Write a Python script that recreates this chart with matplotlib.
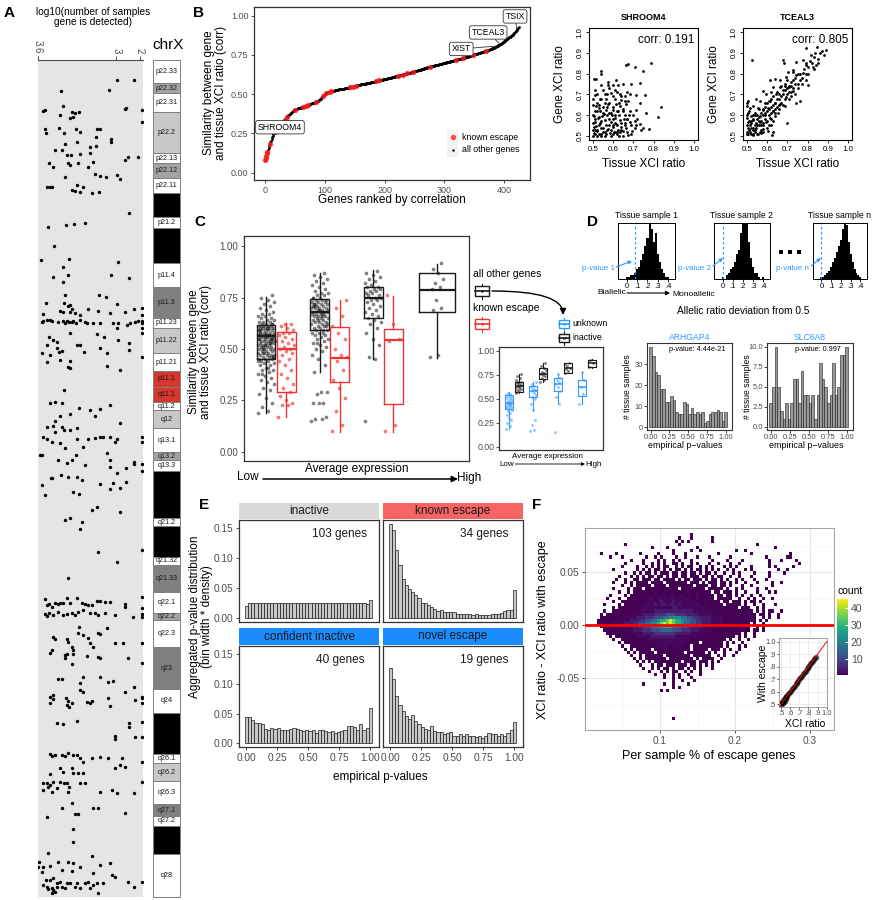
import numpy as np
import matplotlib
matplotlib.use("Agg")
import matplotlib.pyplot as plt
from matplotlib.patches import Rectangle
from matplotlib.colors import Normalize

plt.rcParams["font.family"] = ["Liberation Sans", "DejaVu Sans"]

W, H = 876, 900
TXT = "#4d4d4d"
RED = "#ee3333"
BLUE = "#3399ff"

# ---------------- A: chrX ideogram and genes ----------------
band_names = ["p22.33", "p22.32", "p22.31", "p22.2", "p22.13", "p22.12", "p22.11", "p21.3", "p21.2", "p21.1",
              "p11.4", "p11.3", "p11.23", "p11.22", "p11.21", "p11.1", "q11.1", "q11.2", "q12", "q13.1",
              "q13.2", "q13.3", "q21.1", "q21.2", "q21.31", "q21.32", "q21.33", "q22.1", "q22.2", "q22.3",
              "q23", "q24", "q25", "q26.1", "q26.2", "q26.3", "q27.1", "q27.2", "q27.3", "q28"]
band_start = [0, 23, 33, 52, 93, 103, 118, 133, 157, 168, 203, 227, 258, 268, 293, 311, 327, 342, 350, 368,
              392, 400, 411, 458, 466, 497, 505, 532, 553, 560, 587, 629, 653, 694, 703, 721, 744, 756, 766, 794]
band_end = band_start[1:] + [837]
band_stain = ["gneg", "gpos50", "gneg", "gpos25", "gneg", "gpos50", "gneg", "gpos100", "gneg", "gpos100",
              "gneg", "gpos75", "gneg", "gpos25", "gneg", "acen", "acen", "gneg", "gpos25", "gneg",
              "gpos50", "gneg", "gpos100", "gneg", "gpos100", "gneg", "gpos75", "gneg", "gpos50", "gneg",
              "gpos75", "gneg", "gpos100", "gneg", "gpos25", "gneg", "gpos75", "gneg", "gpos100", "gneg"]
stain_colors = {"gneg": "white", "gpos25": "#c8c8c8", "gpos50": "#a3a3a3", "gpos75": "#808080",
                "gpos100": "black", "acen": "#d6372c"}

# (ideogram position, number of samples the gene is detected in)
a_genes = [
    (20, 989), (20, 317), (31, 3107), (30, 1293), (46, 3018), (51, 3779), (50, 3715), (52, 2701), (53, 2574),
    (52, 2422), (49, 672), (48, 634), (50, 5), (55, 3145), (58, 2764), (57, 2663), (62, 5), (69, 3715),
    (68, 3170), (69, 2536), (69, 1750), (69, 1623), (72, 2384), (73, 3677), (73, 2980), (82, 2485), (77, 1775),
    (79, 1205), (82, 1205), (86, 1775), (87, 2003), (84, 2954), (90, 3335), (90, 3081), (95, 2891), (95, 2726),
    (94, 2384), (93, 2003), (97, 165), (97, 545), (100, 672), (103, 3550), (103, 2828), (105, 2764), (103, 2447),
    (107, 3398), (107, 2067), (102, 1877), (115, 989), (119, 862), (117, 2954), (114, 1813), (116, 1623),
    (117, 1407), (127, 3652), (127, 3525), (127, 3462), (125, 2511), (127, 2257), (130, 2701), (131, 2574),
    (132, 2384), (133, 1940), (132, 1661), (153, 520), (167, 3588), (165, 2929), (164, 2612), (163, 2194),
    (186, 3373), (200, 3880), (199, 2790), (202, 926), (207, 3043), (215, 2828), (215, 1205), (218, 507),
    (217, 3398), (222, 3043), (235, 2954), (235, 1648), (237, 1395), (243, 3690), (243, 2980), (245, 2764),
    (244, 989), (251, 3145), (252, 3018), (246, 2828), (252, 2764), (249, 2701), (253, 2574), (255, 2384),
    (249, 2067), (251, 1686), (253, 1243), (252, 672), (249, 317), (248, 5), (255, 5), (254, 3779),
    (262, 3842), (261, 3779), (260, 3652), (260, 3525), (261, 3462), (262, 3208), (261, 3018), (263, 2954),
    (261, 2891), (262, 2790), (262, 2701), (261, 2637), (263, 2536), (260, 2384), (262, 2194), (263, 2105),
    (263, 1877), (263, 1623), (263, 1141), (263, 926), (263, 482), (262, 292), (261, 165), (261, 5), (263, 5),
    (268, 964), (265, 609), (268, 5), (273, 5), (277, 3550), (280, 3398), (282, 3271), (273, 2764), (274, 1750),
    (277, 1458), (280, 926), (285, 3652), (288, 3271), (292, 3170), (291, 3081), (293, 3842), (295, 3525),
    (285, 2511), (285, 2384), (292, 2219), (288, 1623), (293, 1344), (283, 507), (290, 507), (297, 5),
    (302, 3652), (300, 3145), (301, 2764), (307, 2828), (308, 2764), (310, 862), (306, 1344), (330, 2980),
    (342, 3335), (343, 3525), (343, 3081), (348, 2422), (354, 2764), (356, 3145), (361, 3335), (350, 2003),
    (356, 1813), (349, 1623), (345, 1243), (367, 3652), (366, 3398), (372, 3335), (367, 3081), (370, 2992),
    (370, 2764), (368, 2511), (363, 862), (377, 3779), (379, 3652), (382, 3462), (383, 3145), (379, 2511),
    (379, 2067), (378, 1813), (377, 1623), (377, 1496), (377, 1243), (382, 1052), (379, 989), (377, 5),
    (382, 5), (388, 2954), (387, 2257),
    (395, 3905), (395, 3842), (400, 3208), (403, 2891), (400, 2701), (395, 2536), (405, 2194), (393, 1369),
    (400, 1243), (408, 634), (402, 317), (404, 317), (404, 5), (411, 5), (407, 1243), (413, 989), (425, 3842),
    (435, 3715), (418, 3487), (418, 3436), (415, 3119), (417, 2828), (417, 2511), (420, 2320), (432, 2663),
    (434, 2409), (424, 1623), (423, 1116), (429, 1243), (428, 862), (422, 634), (450, 1940), (447, 1750),
    (452, 862), (460, 2954), (458, 2764), (462, 2320), (469, 2384), (492, 1686), (502, 989), (490, 5),
    (518, 2828), (539, 3715), (545, 3652), (544, 3550), (547, 3462), (543, 3335), (544, 3208), (543, 3145),
    (543, 3043), (538, 2891), (543, 2764), (538, 2511), (543, 2320), (544, 2194), (545, 2067), (545, 1940),
    (541, 1750), (541, 1623), (542, 1433), (542, 1243), (544, 672), (547, 672), (537, 5), (548, 5),
    (554, 3715), (556, 3652), (553, 3550), (555, 3398), (552, 3208), (555, 3018), (554, 2891), (553, 2701),
    (555, 2574), (552, 2447), (550, 2257), (553, 2003), (553, 1813), (555, 1686), (553, 1433), (555, 1052),
    (557, 355), (554, 5), (557, 5), (567, 2409), (573, 2447), (577, 3398), (579, 3335), (579, 2891),
    (582, 2828), (587, 2701), (590, 2637), (575, 2257), (578, 2067), (583, 2003), (587, 1877), (573, 1686),
    (574, 1623), (568, 1369), (583, 1052), (583, 761), (583, 5), (590, 3462), (593, 3525), (595, 2954),
    (598, 2954), (594, 2891), (594, 2637), (604, 2701), (596, 2130), (597, 1686), (598, 1623), (598, 545),
    (603, 5), (619, 3208), (619, 3081), (617, 2257), (623, 2384), (617, 1623), (622, 1306), (621, 1116),
    (632, 672), (627, 317), (637, 3525), (635, 3424), (639, 3398), (643, 3525), (638, 2916), (641, 2828),
    (645, 2891), (647, 2790), (643, 2701), (630, 2384), (632, 2257), (642, 2130), (643, 2003), (641, 1940),
    (638, 1306), (646, 1243), (638, 5), (643, 5), (637, 5), (640, 292), (663, 3246), (664, 3018), (661, 2485),
    (663, 507), (667, 507), (662, 5), (676, 1052), (679, 1052), (677, 292), (677, 5), (694, 3525), (696, 3462),
    (695, 3335), (695, 3081), (696, 2954), (693, 2828), (695, 2637), (695, 2511), (698, 2384), (702, 2282),
    (698, 1940), (697, 1623), (698, 1306), (698, 799), (708, 1052), (705, 862), (707, 672), (702, 5),
    (714, 3525), (708, 3145), (712, 3043), (708, 2701), (713, 2637), (713, 2447), (713, 2257), (722, 5),
    (723, 3779), (723, 3652), (725, 3525), (722, 3398), (722, 3145), (723, 2992), (723, 2891), (723, 2384),
    (723, 2194), (730, 3779), (727, 3588), (732, 3462), (728, 3271), (732, 2828), (727, 2790), (732, 1623),
    (730, 1179), (733, 964), (733, 330), (748, 3056), (743, 2701), (754, 2574), (754, 2447), (748, 1877),
    (748, 1686), (753, 672), (757, 3652), (769, 2637), (782, 2663), (793, 3588), (796, 1940), (802, 3931),
    (807, 3969), (807, 3779), (806, 3525), (802, 3208), (802, 2828), (803, 2637), (807, 2384), (805, 1623),
    (803, 1243), (812, 3842), (810, 3081), (811, 2701), (813, 1877), (815, 1179), (817, 1052), (820, 3677),
    (820, 3525), (818, 3398), (823, 3271), (822, 3145), (823, 2891), (823, 2764), (823, 2511), (823, 2194),
    (822, 2067), (823, 1750), (823, 1496), (825, 3779), (827, 3652), (829, 3588), (828, 3462), (830, 3398),
    (832, 3335), (827, 3271), (827, 3081), (828, 2954), (827, 2574), (828, 2384), (828, 2003), (825, 1877),
    (833, 3462), (833, 1686), (822, 545), (827, 317), (822, 5)]
a_tick_values = [3.6, 3, 2]

# ---------------- B: ranked correlation ----------------
corr_sorted = [
    0.083, 0.092, 0.105, 0.125, 0.134, 0.148, 0.160, 0.172, 0.185, 0.195,
    0.205, 0.214, 0.225, 0.236, 0.245, 0.252, 0.260, 0.266, 0.271, 0.276,
    0.281, 0.286, 0.290, 0.295, 0.299, 0.303, 0.307, 0.311, 0.315, 0.319,
    0.324, 0.329, 0.334, 0.339, 0.343, 0.348, 0.352, 0.356, 0.361, 0.365,
    0.369, 0.373, 0.376, 0.380, 0.383, 0.386, 0.390, 0.394, 0.397, 0.400,
    0.402, 0.404, 0.405, 0.407, 0.408, 0.410, 0.411, 0.412, 0.413, 0.414,
    0.415, 0.416, 0.417, 0.418, 0.419, 0.420, 0.421, 0.422, 0.423, 0.424,
    0.426, 0.428, 0.430, 0.432, 0.433, 0.435, 0.437, 0.439, 0.441, 0.443,
    0.444, 0.446, 0.447, 0.449, 0.450, 0.452, 0.453, 0.455, 0.457, 0.459,
    0.462, 0.465, 0.468, 0.472, 0.476, 0.480, 0.484, 0.488, 0.492, 0.496,
    0.499, 0.502, 0.505, 0.507, 0.509, 0.511, 0.513, 0.514, 0.515, 0.516,
    0.517, 0.518, 0.519, 0.520, 0.521, 0.522, 0.523, 0.524, 0.525, 0.526,
    0.527, 0.528, 0.529, 0.530, 0.530, 0.531, 0.532, 0.533, 0.533, 0.534,
    0.535, 0.536, 0.536, 0.537, 0.538, 0.539, 0.539, 0.540, 0.541, 0.542,
    0.542, 0.543, 0.544, 0.545, 0.546, 0.547, 0.548, 0.549, 0.550, 0.551,
    0.552, 0.553, 0.554, 0.555, 0.556, 0.557, 0.558, 0.559, 0.560, 0.561,
    0.562, 0.563, 0.563, 0.564, 0.565, 0.566, 0.566, 0.567, 0.568, 0.569,
    0.569, 0.570, 0.571, 0.572, 0.572, 0.573, 0.574, 0.575, 0.576, 0.577,
    0.578, 0.579, 0.580, 0.580, 0.581, 0.582, 0.583, 0.584, 0.585, 0.586,
    0.587, 0.588, 0.588, 0.589, 0.590, 0.591, 0.592, 0.593, 0.594, 0.594,
    0.595, 0.596, 0.597, 0.598, 0.599, 0.600, 0.601, 0.602, 0.603, 0.604,
    0.605, 0.606, 0.607, 0.608, 0.609, 0.610, 0.611, 0.612, 0.613, 0.614,
    0.615, 0.616, 0.617, 0.618, 0.619, 0.620, 0.621, 0.622, 0.623, 0.624,
    0.625, 0.626, 0.627, 0.628, 0.629, 0.630, 0.631, 0.632, 0.633, 0.634,
    0.635, 0.636, 0.637, 0.638, 0.639, 0.640, 0.641, 0.642, 0.643, 0.644,
    0.645, 0.646, 0.647, 0.649, 0.650, 0.651, 0.652, 0.653, 0.655, 0.656,
    0.657, 0.658, 0.659, 0.661, 0.662, 0.663, 0.664, 0.666, 0.667, 0.668,
    0.669, 0.670, 0.671, 0.672, 0.673, 0.674, 0.675, 0.676, 0.677, 0.678,
    0.679, 0.680, 0.681, 0.682, 0.683, 0.684, 0.685, 0.686, 0.687, 0.688,
    0.689, 0.690, 0.691, 0.692, 0.693, 0.694, 0.695, 0.696, 0.697, 0.698,
    0.699, 0.700, 0.701, 0.702, 0.703, 0.704, 0.705, 0.706, 0.707, 0.708,
    0.709, 0.710, 0.711, 0.712, 0.713, 0.714, 0.715, 0.716, 0.717, 0.718,
    0.719, 0.720, 0.721, 0.722, 0.723, 0.724, 0.725, 0.726, 0.727, 0.728,
    0.729, 0.730, 0.731, 0.732, 0.733, 0.734, 0.736, 0.737, 0.738, 0.739,
    0.740, 0.742, 0.743, 0.744, 0.745, 0.747, 0.748, 0.749, 0.750, 0.752,
    0.753, 0.754, 0.755, 0.757, 0.758, 0.759, 0.760, 0.762, 0.763, 0.764,
    0.765, 0.766, 0.767, 0.768, 0.770, 0.771, 0.772, 0.773, 0.774, 0.776,
    0.777, 0.778, 0.779, 0.781, 0.782, 0.783, 0.785, 0.786, 0.788, 0.789,
    0.791, 0.793, 0.795, 0.797, 0.799, 0.801, 0.803, 0.805, 0.807, 0.809,
    0.811, 0.813, 0.815, 0.817, 0.819, 0.822, 0.825, 0.828, 0.831, 0.834,
    0.837, 0.840, 0.843, 0.846, 0.849, 0.852, 0.855, 0.858, 0.861, 0.864,
    0.867, 0.870, 0.873, 0.876, 0.879, 0.883, 0.887, 0.891, 0.895, 0.900,
    0.905, 0.910, 0.915, 0.920, 0.925]
escape_ranks = [0, 1, 2, 3, 4, 8, 16, 17, 18, 33, 36, 50, 64, 68, 72, 86, 97, 102, 108, 111, 142, 147, 152,
                186, 191, 222, 230, 238, 247, 275, 320, 331, 348, 370]
gene_labels = ["SHROOM4", "XIST", "TCEAL3", "TSIX"]
gene_label_rank = [17, 388, 393, 421]
gene_label_box = [(25, 0.29), (328, 0.788), (373, 0.893), (418, 0.995)]

shroom4_xy = [
    (0.665, 0.842), (0.673, 0.847), (0.706, 0.834), (0.785, 0.85), (0.748, 0.814), (0.538, 0.814), (0.538, 0.80),
    (0.505, 0.776), (0.517, 0.776), (0.616, 0.768), (0.574, 0.76), (0.648, 0.751), (0.731, 0.755), (0.541, 0.743),
    (0.574, 0.743), (0.599, 0.743), (0.624, 0.743), (0.69, 0.751), (0.508, 0.698), (0.558, 0.702), (0.591, 0.705),
    (0.632, 0.702), (0.657, 0.693), (0.682, 0.702), (0.715, 0.698), (0.756, 0.698), (0.533, 0.677), (0.566, 0.677),
    (0.607, 0.677), (0.64, 0.672), (0.673, 0.669), (0.731, 0.66), (0.574, 0.652), (0.612, 0.652), (0.632, 0.644),
    (0.662, 0.652), (0.513, 0.644), (0.53, 0.636), (0.566, 0.627), (0.599, 0.627), (0.624, 0.619), (0.648, 0.619),
    (0.682, 0.619), (0.715, 0.627), (0.764, 0.611), (0.838, 0.639), (0.822, 0.589), (0.508, 0.619), (0.503, 0.594),
    (0.508, 0.569), (0.503, 0.545), (0.508, 0.528), (0.503, 0.512), (0.525, 0.586), (0.533, 0.561), (0.541, 0.536),
    (0.55, 0.52), (0.558, 0.578), (0.566, 0.553), (0.574, 0.533), (0.583, 0.512), (0.591, 0.569), (0.599, 0.545),
    (0.607, 0.586), (0.616, 0.556), (0.624, 0.528), (0.632, 0.578), (0.64, 0.545), (0.648, 0.523), (0.657, 0.561),
    (0.665, 0.54), (0.673, 0.503), (0.682, 0.569), (0.69, 0.553), (0.706, 0.573), (0.715, 0.55), (0.731, 0.556),
    (0.748, 0.54), (0.776, 0.533), (0.517, 0.548), (0.52, 0.523), (0.53, 0.507), (0.546, 0.594), (0.563, 0.507),
    (0.594, 0.599), (0.602, 0.52), (0.619, 0.507), (0.635, 0.52), (0.652, 0.583), (0.668, 0.583), (0.536, 0.619),
    (0.553, 0.606), (0.58, 0.611), (0.628, 0.599), (0.678, 0.599), (0.695, 0.523), (0.5, 0.5), (0.5, 0.53),
    (0.5, 0.56), (0.5, 0.6), (0.5, 0.65), (0.52, 0.5), (0.54, 0.5), (0.56, 0.52), (0.58, 0.55), (0.6, 0.58),
    (0.61, 0.6), (0.62, 0.55), (0.54, 0.57), (0.55, 0.64), (0.58, 0.66), (0.6, 0.69), (0.62, 0.71), (0.59, 0.5),
    (0.61, 0.52), (0.64, 0.56), (0.66, 0.6), (0.6, 0.64), (0.57, 0.6), (0.53, 0.59), (0.52, 0.66), (0.7, 0.6),
    (0.72, 0.58), (0.74, 0.53), (0.65, 0.5), (0.67, 0.52), (0.51, 0.51), (0.52, 0.53), (0.53, 0.55), (0.54, 0.51),
    (0.55, 0.54), (0.56, 0.5), (0.57, 0.53), (0.58, 0.58), (0.59, 0.53), (0.6, 0.51), (0.61, 0.56), (0.62, 0.52),
    (0.63, 0.5), (0.64, 0.53), (0.66, 0.55), (0.67, 0.58), (0.69, 0.51), (0.71, 0.54), (0.51, 0.58), (0.52, 0.62),
    (0.53, 0.65), (0.55, 0.61), (0.56, 0.66), (0.57, 0.64), (0.59, 0.61), (0.6, 0.55), (0.62, 0.62), (0.63, 0.66),
    (0.65, 0.63), (0.66, 0.67), (0.5, 0.68), (0.51, 0.72), (0.52, 0.7), (0.54, 0.68), (0.55, 0.72), (0.57, 0.7),
    (0.58, 0.73), (0.61, 0.72), (0.64, 0.69), (0.67, 0.71)]
tceal3_xy = [
    (0.794, 0.925), (0.847, 0.93), (0.893, 0.913), (0.818, 0.892), (0.835, 0.9), (0.777, 0.864), (0.794, 0.85),
    (0.827, 0.834), (0.851, 0.85), (0.744, 0.854), (0.728, 0.817), (0.703, 0.809), (0.678, 0.867), (0.681, 0.85),
    (0.695, 0.784), (0.744, 0.793), (0.777, 0.801), (0.794, 0.768), (0.802, 0.743), (0.752, 0.751), (0.761, 0.669),
    (0.744, 0.66), (0.637, 0.776), (0.662, 0.768), (0.612, 0.768), (0.629, 0.735), (0.662, 0.735), (0.686, 0.751),
    (0.708, 0.735), (0.728, 0.718), (0.579, 0.718), (0.596, 0.702), (0.62, 0.71), (0.645, 0.702), (0.67, 0.693),
    (0.695, 0.685), (0.72, 0.693), (0.546, 0.677), (0.563, 0.669), (0.587, 0.66), (0.612, 0.669), (0.637, 0.66),
    (0.662, 0.652), (0.686, 0.644), (0.505, 0.669), (0.513, 0.636), (0.53, 0.644), (0.554, 0.636), (0.579, 0.627),
    (0.604, 0.636), (0.629, 0.619), (0.653, 0.611), (0.505, 0.611), (0.521, 0.594), (0.538, 0.611), (0.563, 0.594),
    (0.587, 0.602), (0.612, 0.586), (0.637, 0.594), (0.505, 0.569), (0.516, 0.553), (0.53, 0.578), (0.546, 0.561),
    (0.563, 0.569), (0.579, 0.553), (0.596, 0.569), (0.62, 0.553), (0.505, 0.536), (0.513, 0.52), (0.53, 0.528),
    (0.546, 0.536), (0.563, 0.52), (0.579, 0.533), (0.604, 0.523), (0.629, 0.52), (0.505, 0.507), (0.53, 0.503),
    (0.554, 0.507), (0.571, 0.512), (0.625, 0.503), (0.5, 0.586), (0.5, 0.553), (0.5, 0.52), (0.5, 0.644),
    (0.5, 0.66), (0.526, 0.864), (0.698, 0.564), (0.52, 0.56), (0.53, 0.54), (0.54, 0.52), (0.55, 0.58),
    (0.56, 0.55), (0.57, 0.57), (0.58, 0.6), (0.59, 0.58), (0.6, 0.62), (0.61, 0.6), (0.62, 0.64), (0.63, 0.62),
    (0.64, 0.66), (0.65, 0.64), (0.66, 0.68), (0.67, 0.66), (0.68, 0.7), (0.69, 0.72), (0.7, 0.7), (0.71, 0.74),
    (0.72, 0.76), (0.73, 0.73), (0.74, 0.78), (0.75, 0.8), (0.76, 0.77), (0.78, 0.82), (0.79, 0.84), (0.8, 0.8),
    (0.81, 0.86), (0.83, 0.88), (0.84, 0.84), (0.86, 0.9), (0.88, 0.89), (0.51, 0.53), (0.52, 0.51), (0.53, 0.58),
    (0.54, 0.6), (0.55, 0.51), (0.56, 0.63), (0.57, 0.53), (0.58, 0.56), (0.59, 0.64), (0.6, 0.54), (0.61, 0.67),
    (0.62, 0.58), (0.63, 0.69), (0.64, 0.61), (0.65, 0.71), (0.66, 0.63), (0.67, 0.74), (0.68, 0.65), (0.7, 0.77),
    (0.71, 0.68), (0.73, 0.81), (0.74, 0.7), (0.77, 0.75), (0.5, 0.6), (0.51, 0.62), (0.5, 0.51), (0.52, 0.57),
    (0.53, 0.51), (0.54, 0.55), (0.55, 0.55), (0.56, 0.59), (0.57, 0.61), (0.58, 0.52), (0.6, 0.57), (0.61, 0.55),
    (0.62, 0.61), (0.63, 0.57), (0.64, 0.63), (0.66, 0.65), (0.69, 0.68), (0.72, 0.71), (0.75, 0.73),
    (0.51, 0.57), (0.52, 0.54), (0.53, 0.6), (0.54, 0.53), (0.55, 0.6), (0.56, 0.57), (0.57, 0.55), (0.58, 0.63),
    (0.59, 0.61), (0.6, 0.66), (0.61, 0.63), (0.62, 0.68), (0.63, 0.65), (0.65, 0.68), (0.66, 0.7), (0.68, 0.72),
    (0.69, 0.74), (0.7, 0.73), (0.71, 0.71), (0.72, 0.74), (0.73, 0.77), (0.74, 0.75), (0.76, 0.8), (0.77, 0.78),
    (0.79, 0.8), (0.8, 0.83), (0.82, 0.85), (0.83, 0.82), (0.85, 0.87), (0.87, 0.91)]

# ---------------- C: boxplots by expression level ----------------
# (whisker low, q1, median, q3, whisker high)
c_black_stats = [(0.19, 0.45, 0.563, 0.615, 0.755), (0.39, 0.592, 0.681, 0.743, 0.867),
                 (0.45, 0.649, 0.749, 0.80, 0.883), (0.455, 0.681, 0.786, 0.867, 0.915)]
c_red_stats = [(0.171, 0.293, 0.498, 0.584, 0.625), (0.099, 0.341, 0.458, 0.605, 0.738),
               (0.098, 0.233, 0.544, 0.597, 0.757)]
c_black_pts = [
    [0.19, 0.20, 0.22, 0.24, 0.26, 0.28, 0.30, 0.31, 0.33, 0.34, 0.35, 0.36, 0.37, 0.38, 0.39, 0.40, 0.40, 0.41,
     0.42, 0.42, 0.43, 0.43, 0.44, 0.44, 0.45, 0.45, 0.45, 0.46, 0.46, 0.46, 0.47, 0.47, 0.47, 0.48, 0.48, 0.48,
     0.49, 0.49, 0.49, 0.50, 0.50, 0.50, 0.50, 0.51, 0.51, 0.51, 0.52, 0.52, 0.52, 0.52, 0.53, 0.53, 0.53, 0.53,
     0.54, 0.54, 0.54, 0.54, 0.55, 0.55, 0.55, 0.55, 0.56, 0.56, 0.56, 0.56, 0.56, 0.57, 0.57, 0.57, 0.57, 0.57,
     0.58, 0.58, 0.58, 0.58, 0.58, 0.59, 0.59, 0.59, 0.59, 0.59, 0.60, 0.60, 0.60, 0.60, 0.60, 0.61, 0.61, 0.61,
     0.61, 0.62, 0.62, 0.62, 0.63, 0.63, 0.63, 0.64, 0.64, 0.65, 0.65, 0.66, 0.66, 0.67, 0.67, 0.68, 0.69, 0.70,
     0.71, 0.72, 0.73, 0.74, 0.75, 0.76, 0.52, 0.55, 0.57, 0.48, 0.46, 0.60, 0.58, 0.54, 0.50, 0.44, 0.41, 0.38,
     0.62, 0.56, 0.59, 0.53, 0.51, 0.47, 0.57, 0.61, 0.55],
    [0.15, 0.16, 0.16, 0.17, 0.24, 0.24, 0.24, 0.28, 0.29, 0.29, 0.39, 0.42, 0.45, 0.47, 0.49, 0.50, 0.51, 0.52,
     0.53, 0.54, 0.55, 0.55, 0.56, 0.57, 0.57, 0.58, 0.58, 0.59, 0.59, 0.59, 0.60, 0.60, 0.61, 0.61, 0.62, 0.62,
     0.63, 0.63, 0.63, 0.64, 0.64, 0.65, 0.65, 0.65, 0.66, 0.66, 0.66, 0.67, 0.67, 0.67, 0.68, 0.68, 0.68, 0.68,
     0.69, 0.69, 0.69, 0.70, 0.70, 0.70, 0.71, 0.71, 0.71, 0.72, 0.72, 0.72, 0.73, 0.73, 0.73, 0.74, 0.74, 0.74,
     0.75, 0.75, 0.76, 0.76, 0.77, 0.77, 0.78, 0.79, 0.80, 0.81, 0.82, 0.83, 0.84, 0.85, 0.86, 0.87, 0.64, 0.70,
     0.66, 0.72, 0.61, 0.69, 0.75, 0.58, 0.53, 0.62, 0.67, 0.71],
    [0.15, 0.45, 0.46, 0.52, 0.55, 0.58, 0.60, 0.62, 0.63, 0.64, 0.65, 0.66, 0.67, 0.68, 0.69, 0.70, 0.71, 0.72,
     0.73, 0.74, 0.74, 0.75, 0.75, 0.76, 0.76, 0.77, 0.77, 0.78, 0.78, 0.79, 0.79, 0.80, 0.80, 0.81, 0.82, 0.83,
     0.84, 0.85, 0.86, 0.87, 0.88],
    [0.46, 0.47, 0.69, 0.70, 0.74, 0.79, 0.80, 0.82, 0.84, 0.87, 0.89, 0.92]]
c_red_pts = [
    [0.17, 0.23, 0.23, 0.24, 0.25, 0.27, 0.29, 0.31, 0.33, 0.36, 0.38, 0.40, 0.42, 0.44, 0.45, 0.47, 0.48, 0.49,
     0.50, 0.50, 0.51, 0.52, 0.53, 0.54, 0.55, 0.56, 0.57, 0.58, 0.58, 0.59, 0.60, 0.61, 0.62, 0.62],
    [0.10, 0.13, 0.20, 0.26, 0.31, 0.35, 0.40, 0.44, 0.46, 0.47, 0.50, 0.55, 0.58, 0.61, 0.66, 0.70, 0.74],
    [0.10, 0.13, 0.54, 0.55, 0.62, 0.76]]
# inset: unknown (blue) vs inactive (black)
ci_blue_stats = [(0.19, 0.39, 0.458, 0.54, 0.573), (0.382, 0.514, 0.583, 0.632, 0.677),
                 (0.452, 0.583, 0.653, 0.712, 0.757), (0.45, 0.53, 0.62, 0.70, 0.78)]
ci_black_stats = [(0.556, 0.573, 0.632, 0.677, 0.757), (0.677, 0.702, 0.757, 0.817, 0.869),
                  (0.765, 0.771, 0.817, 0.869, 0.875), (0.82, 0.833, 0.87, 0.903, 0.92)]
ci_blue_pts = [
    [0.19, 0.22, 0.25, 0.28, 0.30, 0.33, 0.35, 0.37, 0.38, 0.39, 0.40, 0.41, 0.42, 0.43, 0.44, 0.45, 0.45, 0.46,
     0.46, 0.47, 0.48, 0.49, 0.50, 0.51, 0.52, 0.53, 0.54, 0.55, 0.56],
    [0.16, 0.17, 0.23, 0.28, 0.38, 0.45, 0.50, 0.52, 0.54, 0.56, 0.58, 0.59, 0.60, 0.62, 0.63, 0.65, 0.67],
    [0.15, 0.45, 0.52, 0.58, 0.62, 0.65, 0.67, 0.70, 0.72, 0.76],
    [0.45, 0.55, 0.62, 0.70, 0.78]]
ci_black_pts = [
    [0.56, 0.58, 0.59, 0.60, 0.61, 0.62, 0.63, 0.63, 0.64, 0.65, 0.66, 0.67, 0.68, 0.70, 0.72, 0.74, 0.76],
    [0.68, 0.70, 0.72, 0.74, 0.75, 0.76, 0.77, 0.78, 0.80, 0.82, 0.84, 0.87],
    [0.77, 0.79, 0.81, 0.82, 0.84, 0.86, 0.87],
    [0.83, 0.87, 0.90]]
c_yticks = [0.00, 0.25, 0.50, 0.75, 1.00]

# ---------------- D: per-sample allelic ratio histograms ----------------
d_bin_centers = [0.00, 0.02, 0.04, 0.06, 0.08, 0.10, 0.12, 0.14, 0.16, 0.18, 0.20, 0.22, 0.24, 0.26, 0.28,
                 0.30, 0.32, 0.34, 0.36, 0.38, 0.40]
d_sample_counts = [
    [1, 1, 2, 2, 3, 5, 6, 9, 12, 16, 20, 30, 24, 18, 22, 12, 8, 5, 3, 1, 1],
    [1, 0, 2, 3, 5, 6, 8, 12, 14, 22, 30, 28, 30, 18, 10, 6, 3, 3, 1, 0, 1],
    [1, 1, 2, 3, 4, 6, 8, 10, 13, 16, 19, 24, 30, 26, 18, 12, 8, 5, 3, 2, 1]]
d_sample_titles = ["Tissue sample 1", "Tissue sample 2", "Tissue sample n"]
d_observed = [0.08, 0.005, 0.0]
d_pvalue_labels = ["p-value 1", "p-value 2", "p-value n"]
arhgap4_counts = [38, 34, 26, 25, 18, 18, 12, 12, 15, 13, 7, 6, 6, 12, 11, 6, 9, 6, 7, 6, 7, 2, 3, 6, 7, 7,
                  8, 7, 3, 7]
slc6a8_counts = [3, 5, 10, 5, 2, 1, 3, 1, 3, 6, 6, 3, 7, 4, 4, 3, 4, 1, 4, 8, 6, 5, 3, 4, 8, 4, 5, 9, 9, 10]

# ---------------- E: aggregated p-value distributions ----------------
e_titles = ["inactive", "known escape", "confident inactive", "novel escape"]
e_strip_colors = ["#d9d9d9", "#f66464", "#1a8cff", "#1a8cff"]
e_gene_counts = [103, 34, 40, 19]
e_inactive = [0.021, 0.025, 0.025, 0.025, 0.026, 0.025, 0.026, 0.025, 0.025, 0.026, 0.026, 0.025, 0.026, 0.025,
              0.026, 0.025, 0.026, 0.026, 0.025, 0.026, 0.025, 0.026, 0.026, 0.025, 0.026, 0.025, 0.025, 0.026,
              0.025, 0.026, 0.025, 0.025, 0.026, 0.025, 0.026, 0.025, 0.026, 0.025, 0.023, 0.031]
e_known = [0.156, 0.146, 0.113, 0.088, 0.066, 0.056, 0.048, 0.044, 0.039, 0.033, 0.026, 0.025, 0.022, 0.019,
           0.015, 0.013, 0.014, 0.011, 0.011, 0.010, 0.010, 0.007, 0.008, 0.007, 0.007, 0.007, 0.006, 0.008,
           0.006, 0.006, 0.006, 0.006, 0.007, 0.008, 0.008, 0.009, 0.013, 0.014, 0.014, 0.047]
e_confident = [0.044, 0.044, 0.040, 0.034, 0.034, 0.033, 0.024, 0.023, 0.026, 0.024, 0.026, 0.023, 0.023, 0.022,
               0.024, 0.026, 0.024, 0.022, 0.021, 0.023, 0.021, 0.023, 0.018, 0.022, 0.022, 0.021, 0.019, 0.021,
               0.018, 0.019, 0.021, 0.022, 0.029, 0.029, 0.028, 0.022, 0.032, 0.023, 0.026, 0.059]
e_novel = [0.126, 0.107, 0.079, 0.065, 0.054, 0.046, 0.041, 0.048, 0.037, 0.032, 0.028, 0.024, 0.023, 0.029,
           0.021, 0.019, 0.019, 0.015, 0.018, 0.019, 0.012, 0.013, 0.015, 0.012, 0.015, 0.013, 0.013, 0.011,
           0.012, 0.009, 0.012, 0.018, 0.015, 0.015, 0.012, 0.015, 0.013, 0.018, 0.023, 0.036]

# ---------------- F: 2D histogram, coded counts per bin ----------------
f_x0, f_dx, f_y0, f_dy, f_ncol = 0.012, 0.004, 0.09, 0.003, 79
f_code = {".": 0, "1": 1, "2": 2, "3": 4, "4": 7, "5": 11, "6": 16, "7": 22, "8": 28, "9": 35, "a": 42}
f_rows = [
    "",
    "................................1",
    "............................1...1......1",
    "...........................1.1.1.......1",
    "..........1.................1.........................1",
    "...................1....1.........1.........................1",
    "..........................1.....1..1...........1..1",
    "..1....1.......1.....1....1...1..........1..........1............1",
    ".....1...1.......1..1.1....1..1...1...1......1...........1......11",
    "............1...1....1.1..1.1...1......1....1....1........1...1....1",
    "..........1.....1..1.1.1..11.1..1.1...1..1...1..1.........1.........1",
    ".........1....1..1.1.1.11..1.1.11..1.1.1...1.1.1....1.....1.1.....1",
    "......1.......1.1.1.11.1.1.11.1.1.11.1.1.1..1.1...1.1........1..1",
    "..........1..1.1.11.1.111.11.11.11.1.11.1..1..1.1....1....1....1",
    "........1...1.1.1.11.11.1.11.11.111.11.1.11..1..1...1.....1",
    ".......1..1..11.111.11.1111.1.11.111.1.11.1.1..1.1...1...1",
    "......1...1.1.1111.1111.1111111.111.1.111.11.1.1..1...1....1..1",
    ".........1..1.11111.2111.11121111.1111.11.11.1...1..1......1",
    "......1....1.111.11112111211.11121111.11111.1..1.1....1..1",
    "........1..1.11111112112112111121121111.11.111.1..1...1...1.1",
    ".....1....1.1111111122121221221111211111.11.11.1.1..1..1",
    "....1...1..11111112212222222212211211111.11111..1..1.1..1..1",
    "......1..111111112222232223222222211111111.11.111.1.11.1",
    "...1....1.111111222232332332322222211211111.11111.1..1..1...1",
    "......1.1111111122222222223322222222211111111111.111..1.1",
    "...1..11111111122222333333333333322222211111111111111.1.1.11..1",
    "..1.11111111222233334444555444433332222211111111111111.11.1..1",
    "..1111111122223334445556677776655443333222211111111111..1.1..1",
    ".111111122223334455667889a9887665544333222211111111111.1.1",
    ".1111122223334455667789a9a98876655443332222111111111.1..1",
    "..11111122223334455667788876655443332222111111111111..1.1",
    "...1111111222333444555666655544433322221111111111111.11.1",
    "....111111112222333344444443333322222111111111111.1..1",
    ".....1.1111111222223333333322222221111111111111.1.1..1",
    "......1..11111111222222222222222111111111111.1..1..1",
    "........1.1111111111222222222211111.1111111.1.1..1",
    ".........1..11111111122221222111.1111111111.1...1.1",
    "..........1.1.11111.111211111111.11111.111.1.1..1",
    "...........1.1.11111.111111111.111111.1.1..1...1",
    "............1..1.111111.11111111.111111..1.1..1",
    ".............1.1.1111111.11111111.1.1111..1",
    "..............1.1.1.111111111.1111.111.1.1",
    "...............1...1.11.111.111.11.1.1.1",
    "................1..1.1.11.1.11.1.1.1...1",
    "..................1...1.1.11..1.1..1",
    "....................1..1..1.1..1...1",
    ".......................1..1.1...1",
    "..........................1..1...1",
    "................1......1..1....1",
    "..........................1.1",
    "......................1.1",
    "", "", "", "", "", "", "", "",
    "..........................1"]
f_inset_x = [0.50, 0.50, 0.51, 0.51, 0.52, 0.52, 0.53, 0.53, 0.54, 0.54, 0.55, 0.55, 0.56, 0.56, 0.57, 0.58,
             0.59, 0.60, 0.61, 0.62, 0.63, 0.64, 0.65, 0.66, 0.67, 0.68, 0.69, 0.70, 0.71, 0.72, 0.73, 0.74,
             0.75, 0.76, 0.77, 0.78, 0.79, 0.80, 0.81, 0.82, 0.83, 0.84, 0.85, 0.86, 0.87, 0.88]
f_inset_y = [0.50, 0.51, 0.50, 0.52, 0.51, 0.53, 0.52, 0.54, 0.53, 0.55, 0.54, 0.56, 0.55, 0.57, 0.57, 0.58,
             0.59, 0.60, 0.61, 0.62, 0.63, 0.64, 0.65, 0.66, 0.67, 0.68, 0.69, 0.70, 0.71, 0.72, 0.73, 0.74,
             0.75, 0.76, 0.77, 0.78, 0.79, 0.80, 0.81, 0.82, 0.83, 0.84, 0.85, 0.86, 0.87, 0.88]


# ================= drawing =================
fig = plt.figure(figsize=(W / 100, H / 100), dpi=100)


def px_axes(x0, y0, x1, y1, **kw):
    return fig.add_axes([x0 / W, 1 - y1 / H, (x1 - x0) / W, (y1 - y0) / H], **kw)


def frame(ax, color="#333333", lw=0.9):
    for s in ax.spines.values():
        s.set_color(color)
        s.set_linewidth(lw)


def ticks(ax, size=7, length=2.5):
    ax.tick_params(labelsize=size, labelcolor=TXT, length=length, width=0.6, color="#333333", pad=1.5)


def jitter(n, amp):
    return (((np.arange(n) * 0.618034) % 1.0) - 0.5) * 2 * amp


# ---- A ----
a_pos = [g[0] for g in a_genes]
a_samples = [g[1] for g in a_genes]
axA = px_axes(38, 60, 143, 897)
axA.set_facecolor("#e5e5e5")
axA.scatter(a_samples, a_pos, s=6, c="black", lw=0)
axA.set_xlim(10 ** 3.6, -15)
axA.set_ylim(837, 0)
axA.xaxis.tick_top()
axA.set_xticks([10 ** v for v in a_tick_values])
axA.set_xticklabels([f"{v:g}" for v in a_tick_values], rotation=-90)
ticks(axA, size=7, length=3)
axA.set_yticks([])
for side in ["left", "right", "bottom"]:
    axA.spines[side].set_visible(False)
axA.spines["top"].set_color(TXT)
axA.spines["top"].set_linewidth(0.8)

axK = px_axes(153, 60, 180, 897)
for nm, s, e, st in zip(band_names, band_start, band_end, band_stain):
    axK.add_patch(Rectangle((0, s), 1, e - s, fc=stain_colors[st], ec="#7f7f7f", lw=0.7, clip_on=False))
    if st != "gpos100":
        axK.text(0.5, (s + e) / 2, nm, ha="center", va="center", fontsize=5.2, color="#1a1a1a")
axK.set_xlim(0, 1)
axK.set_ylim(837, 0)
axK.axis("off")

# ---- B ----
axB = px_axes(254, 7, 530, 180)
ranks = np.arange(len(corr_sorted))
corr_arr = np.array(corr_sorted)
axB.scatter(ranks, corr_arr, s=4, c="black", lw=0, zorder=2)
axB.scatter(ranks[escape_ranks], corr_arr[escape_ranks], s=15, c="#ff2020", alpha=0.8, lw=0, zorder=3)
for nm, r, (bx, by) in zip(gene_labels, gene_label_rank, gene_label_box):
    axB.annotate(nm, xy=(r, corr_arr[r]), xytext=(bx, by), fontsize=6.3, ha="center", va="center", zorder=4,
                 bbox=dict(boxstyle="round,pad=0.25", fc="white", ec="#333333", lw=0.6),
                 arrowprops=dict(arrowstyle="-", color="#333333", lw=0.6, shrinkA=0, shrinkB=0))
axB.set_xlim(-18.4, 443)
axB.set_ylim(-0.046, 1.055)
axB.set_xticks([0, 100, 200, 300, 400])
axB.set_yticks(c_yticks)
axB.set_yticklabels([f"{v:.2f}" for v in c_yticks])
ticks(axB, size=6.5)
frame(axB)


def base_scatter(rect, pts, title, corr_txt):
    ax = px_axes(*rect)
    ax.scatter([p[0] for p in pts], [p[1] for p in pts], s=4, c="black", lw=0)
    ax.set_xlim(0.48, 1.02)
    ax.set_ylim(0.48, 1.02)
    tv = [0.5, 0.6, 0.7, 0.8, 0.9, 1.0]
    ax.set_xticks(tv)
    ax.set_xticklabels([f"{v:.1f}" for v in tv])
    ax.set_yticks(tv)
    ax.set_yticklabels([f"{v:.1f}" for v in tv], rotation=90, va="center")
    ax.tick_params(labelsize=5.7, length=2.5, width=0.6, pad=1.5)
    frame(ax, "black", 0.8)
    ax.text(0.97, 0.95, corr_txt, transform=ax.transAxes, ha="right", va="top", fontsize=8.5)
    cx = (rect[0] + rect[2]) / 2
    fig.text(cx / W, 1 - 17 / H, title, ha="center", va="center", fontsize=6.5, fontweight="bold")
    fig.text(cx / W, 1 - 164 / H, "Tissue XCI ratio", ha="center", va="center", fontsize=8.5)
    fig.text((rect[0] - 29) / W, 1 - 84 / H, "Gene XCI ratio", ha="center", va="center", fontsize=8.5,
             rotation=90)


base_scatter((589, 28, 698, 140), shroom4_xy, "SHROOM4", "corr: 0.191")
base_scatter((743, 28, 852, 140), tceal3_xy, "TCEAL3", "corr: 0.805")

# ---- C ----
axC = px_axes(244, 236, 469, 461)


def stat(t):
    return dict(whislo=t[0], q1=t[1], med=t[2], q3=t[3], whishi=t[4], fliers=[])


def draw_boxes(ax, stats, positions, widths, color, lw=1.0, mlw=1.6):
    ax.bxp([stat(t) for t in stats], positions=positions, widths=widths, showfliers=False, showcaps=False,
           boxprops=dict(color=color, lw=lw), whiskerprops=dict(color=color, lw=lw),
           medianprops=dict(color=color, lw=mlw), manage_ticks=False)


black_pos = [0.8125, 1.8125, 2.8125, 4.0]
red_pos = [1.1875, 2.1875, 3.1875]
draw_boxes(axC, c_black_stats, black_pos, [0.35, 0.35, 0.35, 0.68], "#1a1a1a")
draw_boxes(axC, c_red_stats, red_pos, [0.35, 0.35, 0.35], RED)
for x, pts, amp in zip(black_pos, c_black_pts, [0.16, 0.16, 0.16, 0.12]):
    axC.scatter(x + jitter(len(pts), amp), pts, s=7, c="#1a1a1a", alpha=0.55, lw=0, zorder=3)
for x, pts in zip(red_pos, c_red_pts):
    axC.scatter(x + jitter(len(pts), 0.15), pts, s=7, c=RED, alpha=0.65, lw=0, zorder=3)
axC.set_xlim(0.4, 4.6)
axC.set_ylim(-0.044, 1.049)
axC.set_xticks([])
axC.set_yticks(c_yticks)
axC.set_yticklabels([f"{v:.2f}" for v in c_yticks])
ticks(axC, size=7)
frame(axC)

axCi = px_axes(499, 347, 603, 450)
bpos = [0.8, 1.8, 2.8, 3.8]
kpos = [1.2, 2.2, 3.2, 4.2]
draw_boxes(axCi, ci_blue_stats, bpos, 0.33, BLUE, lw=0.8, mlw=1.1)
draw_boxes(axCi, ci_black_stats, kpos, 0.33, "#1a1a1a", lw=0.8, mlw=1.1)
for x, pts in zip(bpos, ci_blue_pts):
    axCi.scatter(x + jitter(len(pts), 0.12), pts, s=4, c=BLUE, alpha=0.6, lw=0, zorder=3)
for x, pts in zip(kpos, ci_black_pts):
    axCi.scatter(x + jitter(len(pts), 0.12), pts, s=4, c="#1a1a1a", alpha=0.6, lw=0, zorder=3)
axCi.set_xlim(0.39, 4.65)
axCi.set_ylim(-0.034, 1.04)
axCi.set_xticks([])
axCi.set_yticks(c_yticks)
axCi.set_yticklabels([f"{v:.2f}" for v in c_yticks])
ticks(axCi, size=6.3, length=2)
frame(axCi)

# ---- D ----
for rect, counts, title, obs in zip([(618, 223, 675, 279), (714, 223, 770, 279), (813, 223, 867, 279)],
                                    d_sample_counts, d_sample_titles, d_observed):
    ax = px_axes(*rect)
    ax.bar(d_bin_centers, counts, width=0.02, color="black", lw=0)
    ax.axvline(obs, color=BLUE, lw=0.9, ls=(0, (2, 2)))
    ax.set_xlim(-0.087, 0.468)
    ax.set_ylim(0, 27)
    ax.set_yticks([])
    ax.set_xticks([0, 0.1, 0.2, 0.3, 0.4])
    ax.set_xticklabels(["0", ".1", ".2", ".3", ".4"])
    ax.tick_params(labelsize=5.5, length=2, width=0.6, pad=1)
    frame(ax, "black", 0.7)
    fig.text((rect[0] + rect[2]) / 2 / W, 1 - 216 / H, title, ha="center", va="center", fontsize=6.2)


def pval_hist(rect, counts, title, ptxt, yt, ylim):
    ax = px_axes(*rect)
    n = len(counts)
    ax.bar(np.arange(n) / (n - 1), counts, width=1 / (n - 1), color="#999999", ec="#1a1a1a", lw=0.4)
    ax.set_xlim(-0.05, 1.084)
    ax.set_ylim(*ylim)
    ax.set_xticks([0, 0.25, 0.5, 0.75, 1.0])
    ax.set_xticklabels(["0.00", "0.25", "0.50", "0.75", "1.00"])
    ax.set_yticks(yt)
    ax.set_yticklabels([f"{v:g}" if max(yt) > 10 else f"{v:.1f}" for v in yt])
    ax.tick_params(labelsize=5.5, labelcolor=TXT, length=2, width=0.5, pad=1)
    frame(ax, "#333333", 0.8)
    ax.text(0.59, 0.93, ptxt, transform=ax.transAxes, ha="center", va="center", fontsize=5.2)
    cx = (rect[0] + rect[2]) / 2
    fig.text(cx / W, 1 - 337 / H, title, ha="center", va="center", fontsize=6.2, color=BLUE)
    fig.text((cx - 4) / W, 1 - 445 / H, "empirical p\u2212values", ha="center", va="center", fontsize=6.4)
    fig.text((rect[0] - 19) / W, 1 - 387 / H, "# tissue samples", ha="center", va="center", fontsize=6.2,
             rotation=90)


pval_hist((647, 343, 732, 430), arhgap4_counts, "ARHGAP4", "p-value: 4.44e-21", [0, 10, 20, 30], (-1.4, 40))
pval_hist((767, 343, 853, 430), slc6a8_counts, "SLC6A8", "p-value: 0.997", [0, 2.5, 5, 7.5, 10], (-0.4, 10.5))

# ---- E ----
e_rects = [(239, 520, 379, 622), (383, 520, 523, 622), (239, 646, 379, 747), (383, 646, 523, 747)]
e_strips = [(503, 519), (503, 519), (628, 645), (628, 645)]
for k, (rect, vals) in enumerate(zip(e_rects, [e_inactive, e_known, e_confident, e_novel])):
    ax = px_axes(*rect)
    n = len(vals)
    ax.bar(np.arange(n) / (n - 1), vals, width=1 / (n - 1), color="#c8c8c8", ec="#1a1a1a", lw=0.5)
    ax.set_xlim(-0.06, 1.07)
    ax.set_ylim(-0.006, 0.163)
    ax.set_xticks([0, 0.25, 0.5, 0.75, 1.0])
    ax.set_xticklabels(["0.00", "0.25", "0.50", "0.75", "1.00"])
    ax.set_yticks([0, 0.05, 0.10, 0.15])
    ax.set_yticklabels(["0.00", "0.05", "0.10", "0.15"])
    ticks(ax, size=7.3)
    if k % 2 == 1:
        ax.tick_params(axis="y", left=False, labelleft=False)
    if k < 2:
        ax.tick_params(axis="x", bottom=False, labelbottom=False)
    frame(ax, "#333333", 0.9)
    ax.text(0.72, 0.86, f"{e_gene_counts[k]} genes", transform=ax.transAxes, ha="center", va="center",
            fontsize=8.5, color="#1a1a1a")
    sa = px_axes(rect[0], e_strips[k][0], rect[2], e_strips[k][1])
    sa.set_facecolor(e_strip_colors[k])
    sa.set_xticks([])
    sa.set_yticks([])
    for s in sa.spines.values():
        s.set_visible(False)
    sa.text(0.5, 0.5, e_titles[k], transform=sa.transAxes, ha="center", va="center", fontsize=8.5,
            color="#1a1a1a")

# ---- F ----
axF = px_axes(585, 528, 834, 730)
grid = np.array([[f_code[ch] for ch in row.ljust(f_ncol, ".")[:f_ncol]] for row in f_rows], float)
grid = np.ma.masked_equal(grid, 0)
xe = f_x0 + f_dx * np.arange(f_ncol + 1)
ye = f_y0 - f_dy * np.arange(len(f_rows) + 1)
axF.set_axisbelow(True)
mesh = axF.pcolormesh(xe, ye, grid, cmap="viridis", norm=Normalize(1, 45), zorder=2)
axF.axhline(0, color="#ff0000", lw=2, zorder=3)
axF.set_xlim(0.0, 0.332)
axF.set_ylim(-0.099, 0.092)
axF.set_xticks([0.1, 0.2, 0.3])
axF.set_xticklabels(["0.1", "0.2", "0.3"])
axF.set_yticks([-0.05, 0, 0.05])
axF.set_yticklabels(["-0.05", "0.00", "0.05"])
axF.set_xticks([0.05, 0.15, 0.25], minor=True)
axF.set_yticks([-0.075, -0.025, 0.025, 0.075], minor=True)
axF.grid(True, which="major", color="#e6e6e6", lw=0.7)
axF.grid(True, which="minor", color="#f3f3f3", lw=0.4)
axF.tick_params(which="minor", length=0)
ticks(axF, size=7.3)
frame(axF, "#a6a6a6", 0.8)

cax = px_axes(837, 599, 848, 675)
cb = fig.colorbar(mesh, cax=cax, ticks=[10, 20, 30, 40])
cb.outline.set_visible(False)
cax.tick_params(labelsize=7.5, labelcolor=TXT, length=2.5, color="white", direction="in", pad=2)

axFi = px_axes(779, 638, 827, 707)
axFi.set_axisbelow(True)
axFi.grid(True, color="#e6e6e6", lw=0.5)
axFi.scatter(f_inset_x, f_inset_y, s=16, c="black", alpha=0.55, lw=0, zorder=2)
axFi.plot([0.45, 1.05], [0.45, 1.05], color="#ff0000", lw=0.7, zorder=3)
iv = [0.5, 0.6, 0.7, 0.8, 0.9, 1.0]
il = [".5", ".6", ".7", ".8", ".9", "1.0"]
axFi.set_xlim(0.478, 1.003)
axFi.set_ylim(0.478, 1.03)
axFi.set_xticks(iv)
axFi.set_xticklabels(il)
axFi.set_yticks(iv)
axFi.set_yticklabels(il)
axFi.tick_params(labelsize=5.5, labelcolor=TXT, length=1.5, width=0.5, pad=1)
frame(axFi, "#a6a6a6", 0.8)

# ---- text, legends and arrows in pixel coordinates ----
ov = fig.add_axes([0, 0, 1, 1], zorder=20)
ov.set_xlim(0, W)
ov.set_ylim(H, 0)
ov.axis("off")
ov.patch.set_alpha(0)

for lab, (x, y) in zip("ABCDEF", [(9, 13), (198, 13), (200, 222), (592, 222), (204, 505), (537, 505)]):
    ov.text(x, y, lab, fontsize=11, fontweight="bold", ha="center", va="center")

ov.text(93, 17, "log10(number of samples\ngene is detected)", ha="center", va="center", fontsize=7.3,
        linespacing=1.05)
ov.text(168, 45, "chrX", ha="center", va="center", fontsize=11)

ov.text(215, 93, "Similarity between gene\nand tissue XCI ratio (corr)", rotation=90, ha="center",
        va="center", fontsize=8.5, linespacing=1.0)
ov.text(392, 200, "Genes ranked by correlation", ha="center", va="center", fontsize=8.5)
ov.add_patch(Rectangle((447, 130), 11, 27, fc="#f2f2f2", ec="none"))
ov.scatter([453], [137], s=15, c="#ff2020", alpha=0.8, lw=0)
ov.scatter([453], [150], s=3, c="black", lw=0)
ov.text(462, 137, "known escape", ha="left", va="center", fontsize=6.3)
ov.text(462, 150, "all other genes", ha="left", va="center", fontsize=6.3)

ov.text(200, 352, "Similarity between gene\nand tissue XCI ratio (corr)", rotation=90, ha="center",
        va="center", fontsize=8.5, linespacing=1.0)
ov.text(357, 469, "Average expression", ha="center", va="center", fontsize=8.5)
ov.text(248, 477, "Low", ha="center", va="center", fontsize=8.5)
ov.text(469, 478, "High", ha="center", va="center", fontsize=8.5)
ov.annotate("", xy=(458, 479), xytext=(263, 479),
            arrowprops=dict(arrowstyle="-|>", color="black", lw=1.1, mutation_scale=9, shrinkA=0, shrinkB=0))


def glyph(x0, x1, y0, y1, color):
    xm, ym = (x0 + x1) / 2, (y0 + y1) / 2
    ov.add_patch(Rectangle((x0, y0), x1 - x0, y1 - y0, fill=False, ec=color, lw=1.0))
    ov.plot([x0, x1], [ym, ym], color=color, lw=1.2)
    ov.plot([xm, xm], [y0 - 2.5, y0], color=color, lw=0.8)
    ov.plot([xm, xm], [y1, y1 + 2.5], color=color, lw=0.8)
    ov.scatter([xm], [ym], s=5, c=color, alpha=0.6, lw=0)


ov.text(473, 274, "all other genes", ha="left", va="center", fontsize=7.5)
glyph(475, 489, 286, 296, "#1a1a1a")
ov.text(473, 308, "known escape", ha="left", va="center", fontsize=7.5)
glyph(475, 489, 319, 329, RED)
ov.annotate("", xy=(563, 315), xytext=(492, 291),
            arrowprops=dict(arrowstyle="-|>", color="black", lw=1.0, mutation_scale=9, shrinkA=0, shrinkB=0,
                            connectionstyle="angle3,angleA=0,angleB=-90"))
glyph(559, 569, 320, 328, BLUE)
ov.text(572, 324, "unknown", ha="left", va="center", fontsize=6.3)
glyph(559, 569, 334, 342, "#1a1a1a")
ov.text(572, 338, "inactive", ha="left", va="center", fontsize=6.3)
ov.text(547, 457, "Average expression", ha="center", va="center", fontsize=5.8)
ov.text(507, 464, "Low", ha="center", va="center", fontsize=5.8)
ov.text(594, 464, "High", ha="center", va="center", fontsize=5.8)
ov.annotate("", xy=(585, 464), xytext=(515, 464),
            arrowprops=dict(arrowstyle="-|>", color="black", lw=0.6, mutation_scale=5, shrinkA=0, shrinkB=0))

for (tx, ty), (ax0, ay0), (ax1, ay1), lab in zip([(598, 269), (694, 269), (792, 269)],
                                                   [(616, 267), (713, 266), (811, 266)],
                                                   [(632, 261), (723, 258), (821, 258)], d_pvalue_labels):
    ov.text(tx, ty, lab, ha="center", va="center", fontsize=5.8, color=BLUE)
    ov.annotate("", xy=(ax1, ay1), xytext=(ax0, ay0),
                arrowprops=dict(arrowstyle="-|>", color=BLUE, lw=0.8, mutation_scale=5, shrinkA=0, shrinkB=0))
ov.scatter([781, 790, 799], [252, 252, 252], marker="s", s=7, c="black", lw=0)
ov.text(612, 293, "Biallelic", ha="center", va="center", fontsize=6)
ov.text(694, 294, "Monoallelic", ha="center", va="center", fontsize=6)
ov.annotate("", xy=(670, 293), xytext=(627, 293),
            arrowprops=dict(arrowstyle="-|>", color="black", lw=0.8, mutation_scale=6, shrinkA=0, shrinkB=0))
ov.text(743, 311, "Allelic ratio deviation from 0.5", ha="center", va="center", fontsize=7.3)

ov.text(201, 617, "Aggregated p-value distribution\n(bin width * density)", rotation=90, ha="center",
        va="center", fontsize=8.5, linespacing=1.0)
ov.text(380, 777, "empirical p-values", ha="center", va="center", fontsize=8.5)

ov.text(543, 630, "XCI ratio - XCI ratio with escape", rotation=90, ha="center", va="center", fontsize=9)
ov.text(709, 756, "Per sample % of escape genes", ha="center", va="center", fontsize=9)
ov.text(838, 591, "count", ha="left", va="center", fontsize=7.5)
ov.text(805, 724, "XCI ratio", ha="center", va="center", fontsize=7.5)
ov.text(763, 673, "With escape", rotation=90, ha="center", va="center", fontsize=7.5)

fig.savefig("out.png", dpi=100)
